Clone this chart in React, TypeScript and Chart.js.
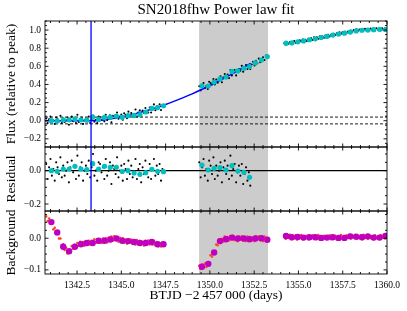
import React, { useEffect, useRef } from "react";
import { Chart, registerables } from "chart.js";
Chart.register(...registerables);

const FONT = "'Liberation Serif', 'Times New Roman', serif";
const TITLE = "SN2018fhw Power law fit";
const X_TITLE = "BTJD \u22122\u2009457\u2009000 (days)";
const Y_TITLES = ["Flux (relative to peak)", "Residual", "Background"];

const X_MIN = 1340.69;
const X_MAX = 1360.0;
const X_TICKS = [1342.5, 1345.0, 1347.5, 1350.0, 1352.5, 1355.0, 1357.5, 1360.0];
const FLUX_TICKS = [-0.2, 0.0, 0.2, 0.4, 0.6, 0.8, 1.0];
const RES_TICKS = [-0.2, 0.0];
const BG_TICKS = [-0.1, 0.0];
const FLUX_RANGE = [-0.29, 1.1];
const RES_RANGE = [-0.242, 0.142];
const BG_RANGE = [-0.113, 0.086];

const SHADE = [1349.39, 1353.28];
const T_START = 1343.29;
const THRESH = [0.04, -0.035];

// cadence of the raw (black / orange) points
const CADENCE = 0.08;
const SEG1_T0 = 1340.76;
const SEG2_T0 = 1349.4;
const SEG3_T0 = 1354.2;

const FLUX_SEG1 = [
  0.025, -0.025, 0.015, 0.045, -0.015, 0.005, -0.035, 0.035, 0.015, -0.005,
  0.055, -0.025, 0.025, -0.015, 0.005, 0.035, -0.045, 0.015, 0.045, -0.005,
  0.025, -0.025, 0.065, -0.015, 0.015, 0.035, -0.035, 0.005, 0.025, -0.005,
  0.045, -0.025, 0.016, 0.057, -0.011, 0.011, -0.027, 0.045, 0.037, 0.009,
  0.031, -0.007, 0.065, 0.007, 0.029, 0.061, -0.017, 0.055, 0.047, 0.029,
  0.091, 0.023, 0.045, 0.067, 0.01, 0.082, 0.065, 0.027, 0.1, 0.052,
  0.085, 0.048, 0.071, 0.124, 0.047, 0.09, 0.114, 0.048, 0.112, 0.086,
  0.14, 0.105, 0.09, 0.145, 0.09, 0.135, 0.18, 0.115, 0.16, 0.136,
  0.182, 0.118, 0.174,
];
const FLUX_SEG2 = [
  0.38, 0.335, 0.38, 0.415, 0.36, 0.385, 0.35, 0.43, 0.415, 0.4,
  0.46, 0.4, 0.455, 0.42, 0.45, 0.49, 0.425, 0.48, 0.515, 0.47,
  0.51, 0.47, 0.56, 0.5, 0.535, 0.56, 0.5, 0.545, 0.57, 0.55,
  0.605, 0.54, 0.59, 0.615, 0.57, 0.615, 0.57, 0.62, 0.65, 0.61,
  0.66, 0.635, 0.685, 0.645, 0.68, 0.7, 0.67, 0.72, 0.7,
];
const FLUX_SEG3 = [
  0.855, 0.839, 0.863, 0.85, 0.869, 0.85, 0.865, 0.878, 0.859, 0.876,
  0.861, 0.886, 0.875, 0.895, 0.876, 0.893, 0.878, 0.905, 0.891, 0.909,
  0.892, 0.92, 0.906, 0.92, 0.905, 0.93, 0.914, 0.93, 0.915, 0.94,
  0.929, 0.949, 0.93, 0.947, 0.934, 0.959, 0.945, 0.963, 0.947, 0.974,
  0.96, 0.974, 0.957, 0.982, 0.968, 0.984, 0.97, 0.996, 0.982, 0.999,
  0.983, 1.008, 0.989, 1.005, 0.988, 1.011, 0.998, 1.015, 0.994, 1.009,
  0.993, 1.016, 0.999, 1.015, 0.996, 1.02, 1.004, 1.016, 0.996, 1.019,
  1.002, 1.016, 0.999,
];

const RES_SEG1 = [
  0.04, -0.05, 0.02, 0.07, -0.03, 0.01, -0.06, 0.05, 0.02, -0.02,
  0.08, -0.04, 0.03, -0.03, 0.0, 0.05, -0.07, 0.02, 0.06, -0.01,
  0.03, -0.05, 0.09, -0.03, 0.02, 0.05, -0.06, 0.0, 0.03, -0.02,
  0.06, -0.04, 0.02, 0.1, -0.03, 0.0, -0.06, 0.05, 0.04, -0.01,
  0.02, -0.05, 0.07, -0.03, 0.0, 0.05, -0.08, 0.03, 0.01, -0.02,
  0.08, -0.04, 0.0, 0.03, -0.06, 0.04, 0.01, -0.05, 0.06, -0.02,
  0.03, -0.04, -0.01, 0.07, -0.05, 0.01, 0.04, -0.07, 0.02, -0.02,
  0.06, -0.01, -0.04, 0.04, -0.05, 0.01, 0.07, -0.03, 0.03, -0.02,
  0.04, -0.06, 0.01,
];
const RES_SEG2 = [
  0.05, -0.04, 0.02, 0.07, -0.03, 0.01, -0.06, 0.06, 0.03, -0.02,
  0.08, -0.05, 0.03, -0.03, 0.0, 0.05, -0.07, 0.02, 0.06, -0.02,
  0.03, -0.05, 0.09, -0.03, 0.01, 0.04, -0.07, -0.01, 0.03, -0.03,
  0.04, -0.08, -0.02, 0.02, -0.06, -0.01, -0.09,
];

const BG_SEG1 = [
  0.069, 0.054, 0.062, 0.046, 0.049, 0.028, 0.033, 0.017, 0.022, -0.001,
  -0.001, -0.022, -0.019, -0.037, -0.03, -0.048, -0.038, -0.044, -0.025, -0.033,
  -0.021, -0.03, -0.015, -0.024, -0.011, -0.023, -0.012, -0.024, -0.01, -0.018,
  -0.008, -0.02, -0.008, -0.019, -0.003, -0.014, -0.003, -0.014, -0.004, -0.015,
  -0.001, -0.012, 0.0, -0.013, 0.001, -0.007, 0.005, -0.008, 0.006, -0.005,
  0.002, -0.011, 0.001, -0.011, 0.0, -0.014, -0.004, -0.017, -0.003, -0.014,
  -0.004, -0.018, -0.007, -0.02, -0.006, -0.02, -0.009, -0.021, -0.011, -0.023,
  -0.008, -0.018, -0.007, -0.02, -0.008, -0.02, -0.008, -0.022, -0.012, -0.025,
  -0.015, -0.026, -0.014,
];
const BG_SEG2 = [
  -0.087, -0.097, -0.083, -0.092, -0.08, -0.091, -0.077, -0.078, -0.054, -0.058,
  -0.041, -0.043, -0.02, -0.022, -0.003, -0.015, -0.002, -0.01, 0.005, -0.006,
  0.004, -0.007, 0.007, -0.003, 0.008, -0.006, 0.003, -0.009, 0.005, -0.005,
  0.006, -0.007, 0.003, -0.009, 0.005, -0.008, 0.004, -0.008, 0.003, -0.009,
  0.006, -0.004, 0.006, -0.006, 0.005, -0.009, 0.005, -0.009, 0.001,
];
const BG_SEG3 = [
  0.01, -0.002, 0.008, 0.001, 0.011, -0.003, 0.006, 0.0, 0.009, -0.004,
  0.007, 0.001, 0.01, -0.003, 0.005, -0.001, 0.008, -0.004, 0.007, 0.0,
  0.009, -0.002, 0.006, -0.003, 0.01, 0.001, 0.005, -0.004, 0.008, 0.0,
  0.007, -0.002, 0.009, -0.003, 0.006, 0.001, 0.008, -0.004, 0.005, 0.0,
  0.01, -0.002, 0.007, -0.003, 0.009, 0.001, 0.011, -0.001, 0.008, 0.003,
  0.01, -0.002, 0.007, 0.0, 0.009, -0.003, 0.011, 0.001, 0.006, -0.002,
  0.008, 0.0, 0.007, -0.003, 0.009, 0.001, 0.006, -0.002, 0.01, 0.002,
  0.008, -0.001, 0.011,
];

// binned points
const BIN_T1 = [1341.05, 1341.38, 1341.72, 1342.05, 1342.38, 1342.72, 1343.05, 1343.38, 1343.72, 1344.05,
  1344.38, 1344.72, 1345.05, 1345.38, 1345.72, 1346.05, 1346.38, 1346.72, 1347.05, 1347.38];
const BIN_FLUX1 = [0.0, -0.004, 0.01, 0.01, 0.02, 0.01, 0.006, 0.04, 0.014, 0.036,
  0.039, 0.05, 0.037, 0.056, 0.058, 0.067, 0.096, 0.136, 0.145, 0.165];
const BIN_RES1 = [0.0, -0.004, 0.01, 0.01, 0.026, 0.01, 0.006, 0.042, 0.01, 0.026,
  0.02, 0.02, -0.005, 0.0, -0.014, -0.022, -0.012, 0.008, -0.004, -0.006];
const BIN_BG1 = [0.051, 0.018, -0.027, -0.041, -0.027, -0.019, -0.015, -0.015, -0.008, -0.008,
  -0.004, -0.001, -0.008, -0.009, -0.012, -0.015, -0.015, -0.012, -0.019, -0.019];

const BIN_T2 = [1349.55, 1349.91, 1350.24, 1350.57, 1350.91, 1351.25, 1351.58, 1351.92, 1352.24, 1352.57, 1352.91, 1353.24];
const BIN_FLUX2 = [0.385, 0.383, 0.426, 0.461, 0.482, 0.544, 0.549, 0.578, 0.597, 0.637, 0.67, 0.707];
const BIN_RES2 = [0.034, 0.004, 0.014, 0.018, 0.004, 0.03, -0.002, -0.01, -0.04];
const BIN_BG2 = [-0.09, -0.081, -0.045, -0.009, -0.003, 0.002, -0.001, -0.001, -0.003, -0.001, 0.0, -0.005];

const BIN_T3 = [1354.3, 1354.63, 1354.96, 1355.29, 1355.62, 1355.95, 1356.28, 1356.61, 1356.94,
  1357.27, 1357.6, 1357.93, 1358.26, 1358.59, 1358.92, 1359.25, 1359.58, 1359.91];
const BIN_FLUX3 = [0.855, 0.858, 0.87, 0.88, 0.893, 0.903, 0.918, 0.93, 0.945,
  0.956, 0.966, 0.978, 0.99, 0.998, 1.0, 1.004, 1.008, 1.006];
const BIN_BG3 = [0.007, 0.003, 0.004, 0.002, 0.003, 0.003, 0.001, 0.002, 0.003,
  0.001, 0.001, 0.006, 0.005, 0.003, 0.006, 0.002, 0.002, 0.007];

// power-law fit curve
const FIT_T = [1340.69, 1343.29, 1343.5, 1344.0, 1344.5, 1345.0, 1345.5, 1346.0, 1346.5, 1347.0, 1347.5,
  1348.0, 1348.5, 1349.0, 1349.5, 1350.0, 1350.5, 1351.0, 1351.5, 1352.0, 1352.3];
const FIT_Y = [0, 0, 0.001, 0.009, 0.023, 0.04, 0.062, 0.087, 0.115, 0.146, 0.179,
  0.216, 0.255, 0.296, 0.341, 0.388, 0.438, 0.489, 0.543, 0.598, 0.632];

const cad = (t0: number, ys: number[]) => ys.map((y, i) => ({ x: t0 + CADENCE * i, y }));
const pair = (ts: number[], ys: number[]) => ys.map((y, i) => ({ x: ts[i], y }));
const fmt = (v: number) => (Math.abs(v) < 1e-9 ? "0.0" : v.toFixed(1).replace("-", "\u2212"));

const BLUE = "#0000ff";
const CYAN = "#00bfbf";
const MAGENTA = "#c000c0";
const ORANGE = "#ff4422";

const panelsPlugin = {
  id: "panels",
  beforeDatasetsDraw(chart: any) {
    const { ctx, chartArea: ca, scales } = chart;
    const x0 = scales.x.getPixelForValue(SHADE[0]);
    const x1 = scales.x.getPixelForValue(SHADE[1]);
    ctx.save();
    ctx.fillStyle = "#cccccc";
    ctx.fillRect(x0, ca.top, x1 - x0, ca.bottom - ca.top);
    ctx.restore();
  },
  afterDatasetsDraw(chart: any) {
    const { ctx, chartArea: ca, scales } = chart;
    const xp = scales.x.getPixelForValue(T_START);
    ctx.save();
    ctx.strokeStyle = BLUE;
    ctx.lineWidth = 1.3;
    ctx.beginPath();
    ctx.moveTo(xp, ca.top);
    ctx.lineTo(xp, scales.yRes.bottom);
    ctx.stroke();
    ctx.restore();
  },
  afterDraw(chart: any) {
    const { ctx, chartArea: ca, scales } = chart;
    const xs = scales.x;
    const panels: [any, number[], number][] = [
      [scales.yFlux, FLUX_TICKS, 0.05],
      [scales.yRes, RES_TICKS, 0.05],
      [scales.yBg, BG_TICKS, 0.025],
    ];
    ctx.save();
    ctx.strokeStyle = "#000";
    ctx.lineWidth = 0.9;
    const L = ca.left, R = ca.right;
    for (const [ys, majors, minorStep] of panels) {
      const T = ys.top, B = ys.bottom;
      ctx.strokeRect(L, T, R - L, B - T);
      ctx.beginPath();
      for (let k = Math.ceil(X_MIN / 0.5); k * 0.5 <= X_MAX + 1e-9; k++) {
        const v = k * 0.5;
        const len = X_TICKS.some((m) => Math.abs(m - v) < 1e-6) ? 3.5 : 2;
        const p = xs.getPixelForValue(v);
        ctx.moveTo(p, B); ctx.lineTo(p, B - len);
        ctx.moveTo(p, T); ctx.lineTo(p, T + len);
      }
      const [mn, mx] = [ys.min, ys.max];
      for (let k = Math.ceil(mn / minorStep - 1e-9); k * minorStep <= mx + 1e-9; k++) {
        const v = k * minorStep;
        const len = majors.some((m) => Math.abs(m - v) < 1e-6) ? 3.5 : 2;
        const p = ys.getPixelForValue(v);
        ctx.moveTo(L, p); ctx.lineTo(L + len, p);
        ctx.moveTo(R, p); ctx.lineTo(R - len, p);
      }
      ctx.stroke();
    }
    ctx.restore();
  },
};

const yScale = (range: number[], ticks: number[], title: string, weight: number, order: number) => ({
  type: "linear",
  position: "left",
  stack: "panels",
  stackWeight: weight,
  weight: order,
  min: range[0],
  max: range[1],
  grid: { display: false, drawTicks: false, tickLength: 0 },
  border: { display: false },
  afterBuildTicks: (s: any) => {
    s.ticks = ticks.map((v) => ({ value: v }));
  },
  afterFit: (s: any) => {
    s.width = 45;
    s.paddingTop = 0;
    s.paddingBottom = 0;
  },
  ticks: {
    font: { family: FONT, size: 9.5 },
    color: "#000",
    padding: 4,
    autoSkip: false,
    callback: (v: number) => fmt(v),
  },
  title: {
    display: true,
    text: title,
    font: { family: FONT, size: 13.5 },
    color: "#000",
    padding: { top: 3, bottom: 0 },
  },
});

export default function App() {
  const ref = useRef<HTMLCanvasElement>(null);
  useEffect(() => {
    const dot = (data: any[], yAxisID: string, color: string, r: number, order: number) => ({
      data, yAxisID, xAxisID: "x", order,
      backgroundColor: color, borderColor: color, borderWidth: 0,
      pointRadius: r, pointHoverRadius: r, showLine: false,
    });
    const line = (data: any[], yAxisID: string, color: string, w: number, order: number, dash: number[] = []) => ({
      data, yAxisID, xAxisID: "x", order,
      borderColor: color, backgroundColor: color, borderWidth: w, borderDash: dash,
      pointRadius: 0, showLine: true, fill: false, cubicInterpolationMode: "monotone",
    });
    const datasets = [
      dot(pair(BIN_T1, BIN_FLUX1), "yFlux", CYAN, 2.6, 0),
      dot(pair(BIN_T2, BIN_FLUX2), "yFlux", CYAN, 2.6, 0),
      dot(pair(BIN_T3, BIN_FLUX3), "yFlux", CYAN, 2.6, 0),
      line(pair(FIT_T, FIT_Y), "yFlux", BLUE, 1.5, 1),
      dot(cad(SEG1_T0, FLUX_SEG1), "yFlux", "#000", 1.05, 2),
      dot(cad(SEG2_T0, FLUX_SEG2), "yFlux", "#000", 1.05, 2),
      dot(cad(SEG3_T0, FLUX_SEG3), "yFlux", "#000", 1.05, 2),
      line([{ x: X_MIN, y: THRESH[0] }, { x: X_MAX, y: THRESH[0] }], "yFlux", "#000", 0.9, 3, [3, 2]),
      line([{ x: X_MIN, y: THRESH[1] }, { x: X_MAX, y: THRESH[1] }], "yFlux", "#000", 0.9, 3, [3, 2]),
      dot(pair(BIN_T1, BIN_RES1), "yRes", CYAN, 2.6, 0),
      dot(pair(BIN_T2, BIN_RES2), "yRes", CYAN, 2.6, 0),
      line([{ x: X_MIN, y: 0 }, { x: X_MAX, y: 0 }], "yRes", "#000", 1.2, 1),
      dot(cad(SEG1_T0, RES_SEG1), "yRes", "#000", 1.05, 2),
      dot(cad(SEG2_T0, RES_SEG2), "yRes", "#000", 1.05, 2),
      dot(pair(BIN_T1, BIN_BG1), "yBg", MAGENTA, 3.2, 0),
      dot(pair(BIN_T2, BIN_BG2), "yBg", MAGENTA, 3.2, 0),
      dot(pair(BIN_T3, BIN_BG3), "yBg", MAGENTA, 3.2, 0),
      dot(cad(SEG1_T0, BG_SEG1), "yBg", ORANGE, 1.3, 2),
      dot(cad(SEG2_T0, BG_SEG2), "yBg", ORANGE, 1.3, 2),
      dot(cad(SEG3_T0, BG_SEG3), "yBg", ORANGE, 1.3, 2),
    ];
    const chart = new Chart(ref.current as HTMLCanvasElement, {
      type: "scatter",
      data: { datasets } as any,
      plugins: [panelsPlugin],
      options: {
        animation: false,
        responsive: false,
        devicePixelRatio: 1,
        events: [],
        layout: { padding: { left: 0, right: 20, top: 0, bottom: 0 } },
        plugins: {
          legend: { display: false },
          tooltip: { enabled: false },
          title: {
            display: true,
            text: TITLE,
            fullSize: false,
            color: "#000",
            font: { family: FONT, size: 15, weight: "normal" },
            padding: { top: 1.5, bottom: 1.5 },
          },
        },
        scales: {
          x: {
            type: "linear",
            position: "bottom",
            min: X_MIN,
            max: X_MAX,
            grid: { display: false, drawTicks: false, tickLength: 0 },
            border: { display: false },
            afterBuildTicks: (s: any) => {
              s.ticks = X_TICKS.map((v) => ({ value: v }));
            },
            afterFit: (s: any) => {
              s.height = 37;
              s.paddingLeft = 0;
              s.paddingRight = 0;
            },
            ticks: {
              font: { family: FONT, size: 9.5 },
              color: "#000",
              padding: 6,
              maxRotation: 0,
              autoSkip: false,
              callback: (v: number) => v.toFixed(1),
            },
            title: {
              display: true,
              text: X_TITLE,
              font: { family: FONT, size: 13.5 },
              color: "#000",
              padding: { top: 0, bottom: 7 },
            },
          },
          yBg: yScale(BG_RANGE, BG_TICKS, Y_TITLES[2], 63, 1),
          yRes: yScale(RES_RANGE, RES_TICKS, Y_TITLES[1], 64, 2),
          yFlux: yScale(FLUX_RANGE, FLUX_TICKS, Y_TITLES[0], 126, 3),
        } as any,
      },
    } as any);
    return () => chart.destroy();
  }, []);
  return (
    <div style={{ position: "absolute", left: 0, top: 0, width: 407, height: 311, background: "#fff" }}>
      <canvas ref={ref} width={407} height={311} style={{ width: 407, height: 311, display: "block" }} />
    </div>
  );
}
